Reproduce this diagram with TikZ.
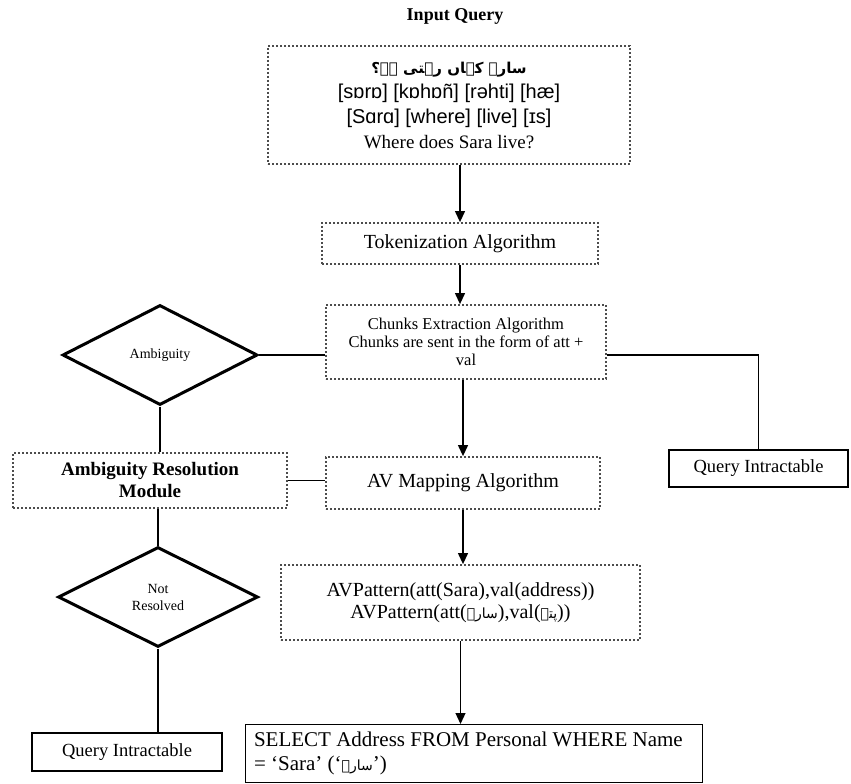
\documentclass[tikz,border=0pt]{standalone}
\usepackage{fontspec}
\setmainfont{Liberation Serif}
\newfontfamily\arial{Liberation Sans}
\newfontfamily\urdu[Script=Arabic]{DejaVu Sans}
\TeXXeTstate=1
\usetikzlibrary{shapes.geometric,arrows.meta}
\tikzset{
  dotbox/.style={draw=black!70, line width=1.8pt, dash pattern=on 1.8pt off 2.2pt, rectangle, inner sep=0pt, align=center},
  solidbox/.style={draw, line width=1.1pt, rectangle, inner sep=0pt, align=center},
  decision/.style={diamond, draw, line width=3pt, inner sep=0pt, align=center, font=\fontsize{14}{17}\selectfont},
  conn/.style={line width=1.2pt},
  arr/.style={conn, -{Triangle[length=11pt,width=10pt]}}
}
\begin{document}
\begin{tikzpicture}[x=1pt,y=-1pt]
\useasboundingbox (0,0) rectangle (851,784);
\fill[white] (0,0) rectangle (851,784);

\node[font=\fontsize{18}{21}\selectfont\bfseries] (title) at (455,16) {Input Query};

\node[dotbox, minimum width=362pt, minimum height=118pt, font=\fontsize{19}{25}\selectfont] (inq) at (449,105)
 {{\urdu\bfseries\fontsize{15}{25}\selectfont\beginR سارہ کہاں رہتی ہے؟\endR}\\
  {\arial\fontsize{20}{25}\selectfont [sɒrɒ] [kɒhɒñ] [rəhti] [hæ]}\\
  {\arial\fontsize{20}{25}\selectfont [Sɑrɑ] [where] [live] [ɪs]}\\
  Where does Sara live?};

\node[dotbox, minimum width=276pt, minimum height=41pt, font=\fontsize{20}{24}\selectfont] (tok) at (460,243.5) {Tokenization Algorithm};

\node[dotbox, minimum width=280pt, minimum height=74pt, font=\fontsize{16.5}{18}\selectfont] (chk) at (466,342)
 {Chunks Extraction Algorithm\\Chunks are sent in the form of att +\\val};

\node[decision, minimum width=195pt, minimum height=100pt] (amb) at (160,355) {Ambiguity};

\node[dotbox, minimum width=274pt, minimum height=55pt, font=\fontsize{19}{22}\selectfont\bfseries] (arm) at (150,480.5)
 {Ambiguity Resolution\\Module};

\node[dotbox, minimum width=274pt, minimum height=52pt, font=\fontsize{20}{24}\selectfont] (avm) at (463,483) {AV Mapping Algorithm};

\node[solidbox, minimum width=179pt, minimum height=37pt, font=\fontsize{18.5}{22}\selectfont] (qi2) at (758.5,468.5) {Query Intractable};

\node[dotbox, minimum width=359pt, minimum height=75pt, font=\fontsize{20}{22}\selectfont] (avp) at (460.5,602.5)
 {AVPattern(att(Sara),val(address))\\
  AVPattern(att({\urdu\fontsize{14}{22}\selectfont\beginR سارہ\endR}),val({\urdu\fontsize{14}{22}\selectfont\beginR پتہ\endR}))};

\node[decision, minimum width=200pt, minimum height=100pt] (nr) at (158,597) {Not\\Resolved};

\node[solidbox, minimum width=190pt, minimum height=38pt, font=\fontsize{18.5}{22}\selectfont] (qi1) at (127,752) {Query Intractable};

\node[solidbox, anchor=north west, minimum width=457pt, minimum height=58pt, text width=440pt, align=flush left,
      font=\fontsize{21}{24}\selectfont] (sel) at (245,724)
 {SELECT Address FROM Personal WHERE Name\\
  = ‘Sara’ (‘{\urdu\fontsize{14}{24}\selectfont\beginR سارہ\endR}’)};

% connectors
\draw[arr] (tok.north |- inq.south) -- (tok.north);
\draw[arr] (tok.south) -- (tok.south |- chk.north);
\draw[arr] (avm.north |- chk.south) -- (avm.north);
\draw[arr] (avm.south) -- (avm.south |- avp.north);
\draw[arr] (avp.south) -- (avp.south |- sel.north);
\draw[conn] (amb.east) -- (amb.east -| chk.west);
\draw[conn] (chk.east |- amb.east) -| (qi2.north);
\draw[conn] (amb.south) -- (amb.south |- arm.north);
\draw[conn] (arm.east) -- (arm.east -| avm.west);
\draw[conn] (nr.north |- arm.south) -- (nr.north);
\draw[conn] (nr.south) -- (nr.south |- qi1.north);
\end{tikzpicture}
\end{document}
